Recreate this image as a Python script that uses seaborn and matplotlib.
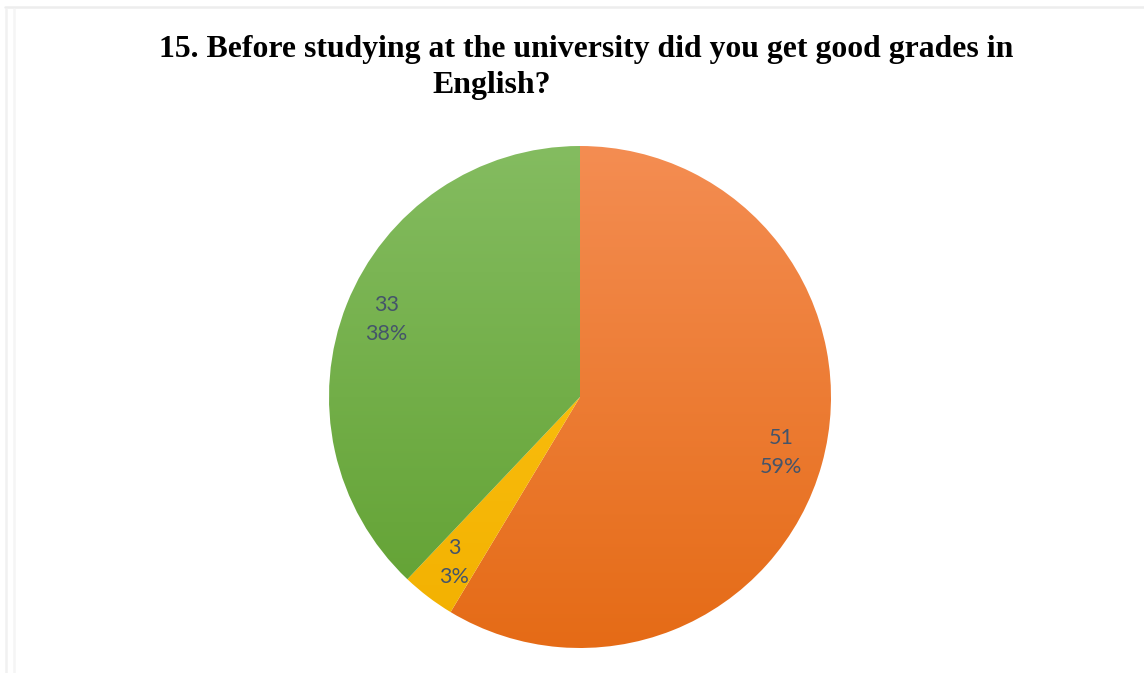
import numpy as np
import matplotlib
matplotlib.use("Agg")
import matplotlib.pyplot as plt
from matplotlib.colors import LinearSegmentedColormap
from matplotlib.lines import Line2D
import seaborn as sns

# Survey answers (counts)
categories = ["Yes", "No", "Sometimes"]
counts = [51, 3, 33]
# gradient fill for each slice: (top colour, bottom colour)
slice_top = ["#F48D52", "#FFC818", "#84BC60"]
slice_bottom = ["#E56B16", "#F2B000", "#60A030"]

title_line1 = "15. Before studying at the university did you get good grades in"
title_line2 = "English?"

sns.set_theme(style="white")
plt.rcParams["font.family"] = ["Lato", "DejaVu Sans"]

W, H = 1144, 673
fig = plt.figure(figsize=(W / 100, H / 100), dpi=100)
fig.patch.set_facecolor("white")

# pie axes: centre (580, 397) px, radius 251 px
cx, cy, r = 580, 397, 251
ax = fig.add_axes([(cx - r) / W, (H - cy - r) / H, 2 * r / W, 2 * r / H])
ax.set_aspect("equal")

total = sum(counts)


def fmt(pct):
    v = int(round(pct * total / 100.0))
    return f"{v}\n{pct:.0f}%"


wedges, _, autotexts = ax.pie(
    counts,
    startangle=90,
    counterclock=False,
    radius=1.0,
    autopct=fmt,
    pctdistance=0.83,
    wedgeprops=dict(linewidth=0),
    textprops=dict(color="#44546A", fontsize=15.5, linespacing=1.55),
)

# vertical gradient inside each wedge
yy = np.linspace(1, 0, 256).reshape(-1, 1)
for w, top, bot in zip(wedges, slice_top, slice_bottom):
    w.set_facecolor("none")
    cmap = LinearSegmentedColormap.from_list("g", [bot, top])
    im = ax.imshow(yy, cmap=cmap, extent=(-1, 1, -1, 1), origin="upper",
                   aspect="auto", zorder=w.get_zorder() - 0.1,
                   vmin=0, vmax=1, interpolation="bilinear")
    im.set_clip_path(w)

for t in autotexts:
    t.set_ha("center")
    t.set_va("center")
    t.set_zorder(5)

ax.set_xlim(-1.0, 1.0)
ax.set_ylim(-1.0, 1.0)
ax.axis("off")

# title (two lines, Times-style bold)
serif = ["Liberation Serif", "DejaVu Serif"]
fig.text(586 / W, 1 - 49 / H, title_line1, ha="center", va="center",
         fontsize=22.9, fontweight="bold", family=serif, color="black")
fig.text(492 / W, 1 - 86 / H, title_line2, ha="center", va="center",
         fontsize=22.9, fontweight="bold", family=serif, color="black")

# faint frame lines along the top and left edges
fig.add_artist(Line2D([5 / W, 1], [1 - 7 / H, 1 - 7 / H], color="#EDEDED",
                      lw=1.8, transform=fig.transFigure))
fig.add_artist(Line2D([6 / W, 6 / W], [0, 1 - 9 / H], color="#F1F1F1",
                      lw=1.8, transform=fig.transFigure))
fig.add_artist(Line2D([14 / W, 14 / W], [0, 1 - 9 / H], color="#F5F5F5",
                      lw=1.8, transform=fig.transFigure))

fig.savefig("out.png", dpi=100, facecolor="white")
